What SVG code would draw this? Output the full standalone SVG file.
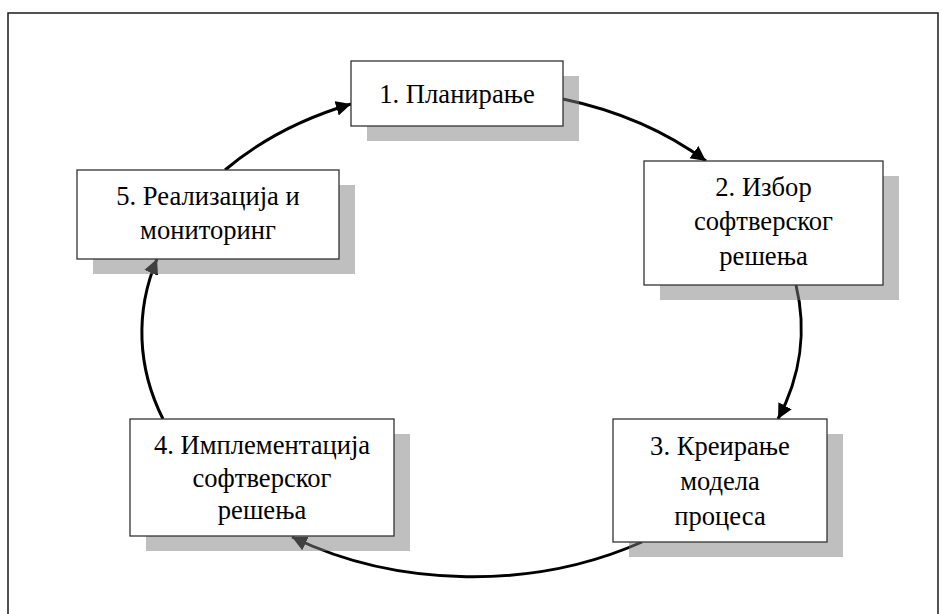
<svg xmlns="http://www.w3.org/2000/svg" width="942" height="614" viewBox="0 0 942 614">
  <defs>
    <style>
      .frame { fill: #ffffff; stroke: #1a1a1a; stroke-width: 1.5; }
      .shadow { fill: #808080; fill-opacity: 0.5; }
      .box { fill: #ffffff; stroke: #333333; stroke-width: 1.3; }
      .label { font-family: 'Liberation Serif', 'Times New Roman', serif; font-size: 28px; fill: #000000; text-anchor: middle; }
      .link { fill: none; stroke: #000000; stroke-width: 3; marker-end: url(#head); }
    </style>
    <marker id="head" markerUnits="userSpaceOnUse" markerWidth="16" markerHeight="16" refX="15" refY="8" orient="auto">
      <path d="M0,0.5 L15,8 L0,15.5 z" fill="#000000"/>
    </marker>
  </defs>

  <!-- outer frame -->
  <rect class="frame" x="8" y="13" width="930" height="612"/>

  <!-- cycle connectors, drawn beneath the translucent shadows -->
  <g id="connectors">
    <path class="link" d="M563,99 A331,246 0 0,1 706,161"/>
    <path class="link" d="M796,285 A331,246 0 0,1 778,419"/>
    <path class="link" d="M642,542 A331,246 0 0,1 292,537"/>
    <path class="link" d="M163,419 A331,246 0 0,1 157,259"/>
    <path class="link" d="M225,170 A331,246 0 0,1 351,104"/>
  </g>

  <g id="node1">
    <rect class="shadow" x="367" y="76" width="212" height="65"/>
    <rect class="box" x="351" y="61" width="212" height="65"/>
    <g transform="translate(457 0) scale(0.95 1)">
      <text class="label" x="0" y="103">1. Планирање</text>
    </g>
  </g>

  <g id="node2">
    <rect class="shadow" x="660" y="176" width="239" height="124"/>
    <rect class="box" x="644" y="161" width="239" height="124"/>
    <g transform="translate(763.5 0) scale(0.95 1)">
      <text class="label" x="0" y="196">2. Избор</text>
      <text class="label" x="0" y="230.5">софтверског</text>
      <text class="label" x="0" y="265">решења</text>
    </g>
  </g>

  <g id="node3">
    <rect class="shadow" x="629" y="434" width="214" height="123"/>
    <rect class="box" x="613" y="419" width="214" height="123"/>
    <g transform="translate(720 0) scale(0.95 1)">
      <text class="label" x="0" y="455">3. Креирање</text>
      <text class="label" x="0" y="490">модела</text>
      <text class="label" x="0" y="525">процеса</text>
    </g>
  </g>

  <g id="node4">
    <rect class="shadow" x="146" y="434" width="264" height="117"/>
    <rect class="box" x="130" y="419" width="264" height="117"/>
    <g transform="translate(262 0) scale(0.95 1)">
      <text class="label" x="0" y="454">4. Имплементација</text>
      <text class="label" x="0" y="487">софтверског</text>
      <text class="label" x="0" y="519">решења</text>
    </g>
  </g>

  <g id="node5">
    <rect class="shadow" x="93" y="185" width="262" height="89"/>
    <rect class="box" x="77" y="170" width="262" height="89"/>
    <g transform="translate(208 0) scale(0.95 1)">
      <text class="label" x="0" y="205">5. Реализација и</text>
      <text class="label" x="0" y="239">мониторинг</text>
    </g>
  </g>
</svg>
